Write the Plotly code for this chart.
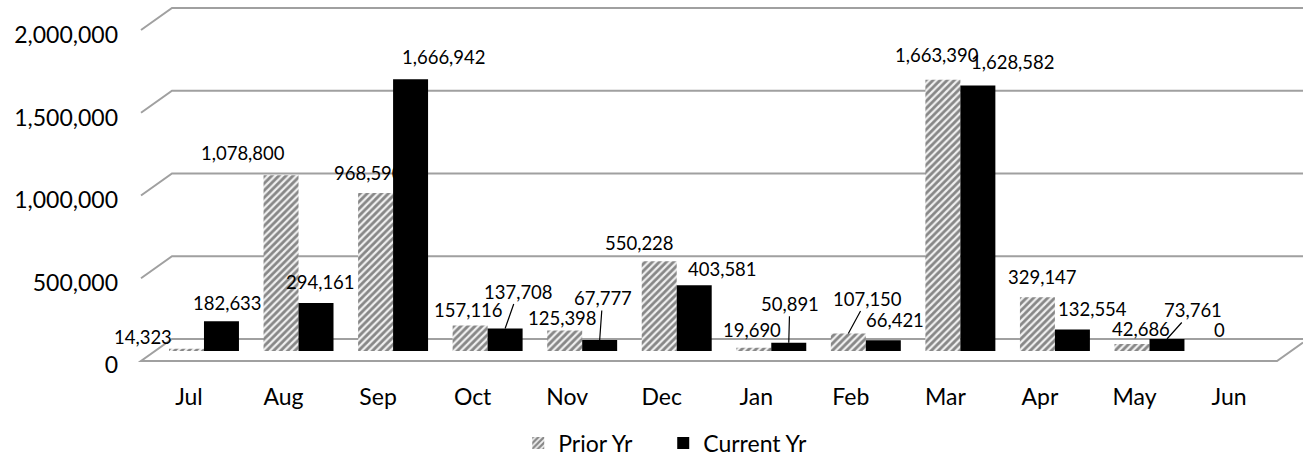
import plotly.graph_objects as go

# ---------------- data ----------------
months = ["Jul", "Aug", "Sep", "Oct", "Nov", "Dec", "Jan", "Feb", "Mar", "Apr", "May", "Jun"]
prior_yr = [14323, 1078800, 968590, 157116, 125398, 550228, 19690, 107150, 1663390, 329147, 42686, 0]
current_yr = [182633, 294161, 1666942, 137708, 67777, 403581, 50891, 66421, 1628582, 132554, 73761, None]
y_ticks = [0, 500000, 1000000, 1500000, 2000000]

# label placement (pixel offsets from bar top, style only)
prior_off = [(-43, -12), (-38, -22), (-7, -20), (-2, -15), (-2, -13), (-20, -18),
             (-2, -18), (19, -35), (-6, -25), (5, -20), (9, -15), (-7, -21)]
prior_leader = [False, False, False, False, False, False, False, True, False, False, False, False]
current_off = [(6, -18), (4, -21), (33, -22), (13, -37), (3, -42), (28, -16),
               (1, -39), (12, -20), (35, -24), (20, -20), (26, -29), (0, 0)]
current_leader = [False, False, False, True, True, False, True, False, False, False, True, False]

W, H = 1303, 458
FONT = "Lato"
GRID = "#a0a0a0"


def px(x):
    return x / W


def py(y):
    return 1 - y / H


# perspective geometry (pixels)
FRONT_X, BACK_X = 141, 172
FRONT_Y0, BACK_Y0 = 361, 339
SCALE = 165.5e-6  # px per unit on the walls
BAR_Y0, BAR_TOP = 351, 8
BAR_SCALE = 163e-6
N = len(months)

fig = go.Figure()

fig.add_trace(go.Bar(
    name="Prior Yr", x=months, y=prior_yr, xaxis="x", yaxis="y",
    marker=dict(color="#f0f0f0",
                pattern=dict(shape="/", fgcolor="#1e1e1e", bgcolor="#f0f0f0",
                             size=5, solidity=0.55),
                line=dict(width=0)),
    hoverinfo="x+y",
))
fig.add_trace(go.Bar(
    name="Current Yr", x=months, y=current_yr, xaxis="x", yaxis="y",
    marker=dict(color="#000000", line=dict(width=0)),
    hoverinfo="x+y",
))
# invisible helper trace carrying the visible category / value axes
fig.add_trace(go.Scatter(
    x=months, y=[0] * N, xaxis="x2", yaxis="y2", mode="markers",
    marker=dict(opacity=0), showlegend=False, hoverinfo="skip",
))

# gridlines in perspective (drawn beneath the bars)
shapes = []
for v in y_ticks:
    fy = FRONT_Y0 - v * SCALE
    by = BACK_Y0 - v * SCALE
    if v == 0:
        path = (f"M {px(W)},{py(342.5)} "
                f"L {px(1277)},{py(FRONT_Y0)} L {px(FRONT_X)},{py(FRONT_Y0)} "
                f"L {px(BACK_X)},{py(by)} L {px(W)},{py(by)}")
    else:
        path = f"M {px(FRONT_X)},{py(fy)} L {px(BACK_X)},{py(by)} L {px(W)},{py(by)}"
    shapes.append(dict(type="path", path=path, xref="paper", yref="paper",
                       line=dict(color=GRID, width=2), layer="below"))

# data labels
annotations = []
for series, offs, leaders, shift in ((prior_yr, prior_off, prior_leader, -0.185),
                                     (current_yr, current_off, current_leader, 0.185)):
    for i, v in enumerate(series):
        if v is None:
            continue
        dx, dy = offs[i]
        txt = f"{v:,}"
        if leaders[i]:
            annotations.append(dict(
                x=i + shift, y=v, xref="x", yref="y", text=txt,
                showarrow=True, arrowhead=0, arrowwidth=1.2, arrowcolor="#000",
                ax=dx, ay=dy, standoff=0,
                font=dict(family=FONT, size=18.5, color="#000")))
        else:
            annotations.append(dict(
                x=i + shift, y=v, xref="x", yref="y", text=txt,
                showarrow=False, xshift=dx, yshift=-dy,
                font=dict(family=FONT, size=18.5, color="#000")))

fig.update_layout(
    width=W, height=H,
    margin=dict(l=0, r=0, t=0, b=0, pad=0, autoexpand=False),
    paper_bgcolor="white", plot_bgcolor="rgba(0,0,0,0)",
    font=dict(family=FONT, size=23, color="#000"),
    barmode="group", bargap=0.26, bargroupgap=0,
    xaxis=dict(domain=[px(156.7), px(1291.3)], type="category",
               categoryorder="array", categoryarray=months,
               range=[-0.5, N - 0.5], autorange=False,
               visible=False, fixedrange=True),
    yaxis=dict(domain=[py(BAR_Y0), py(BAR_TOP)],
               range=[0, (BAR_Y0 - BAR_TOP) / BAR_SCALE], autorange=False,
               visible=False, fixedrange=True),
    xaxis2=dict(domain=[px(141.7), px(1276.3)], type="category",
                categoryorder="array", categoryarray=months,
                range=[-0.5, N - 0.5], autorange=False,
                anchor="free", position=py(381), side="bottom",
                showgrid=False, zeroline=False, showline=False, ticks="",
                automargin=False, fixedrange=True,
                tickfont=dict(family=FONT, size=23, color="#000")),
    yaxis2=dict(domain=[py(365), py(35)], range=[0, 2000000], autorange=False,
                anchor="free", position=px(118), side="left",
                tickvals=y_ticks, tickformat=",",
                showgrid=False, zeroline=False, showline=False, ticks="",
                automargin=False, fixedrange=True,
                tickfont=dict(family=FONT, size=23, color="#000")),
    shapes=shapes,
    annotations=annotations,
    showlegend=True,
    legend=dict(orientation="h", x=0.509, xanchor="center", y=py(443), yanchor="middle",
                font=dict(family=FONT, size=23, color="#000"),
                itemwidth=30, entrywidth=100, entrywidthmode="pixels",
                traceorder="normal", bgcolor="rgba(0,0,0,0)"),
)

fig.write_html("out.html", config={"displayModeBar": False},
               post_script="document.body.style.margin='0';document.body.style.overflow='hidden';")
